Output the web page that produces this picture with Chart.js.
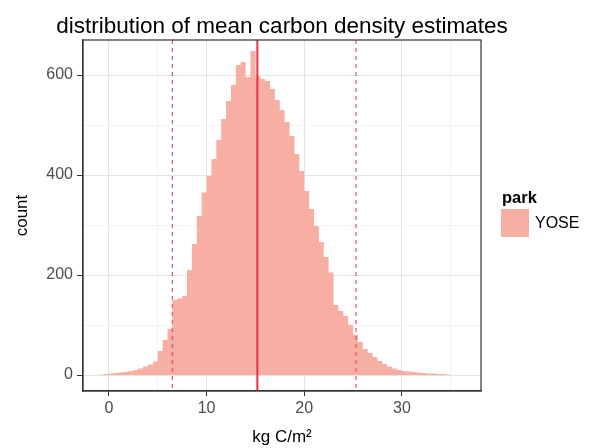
<!DOCTYPE html>
<html>
<head>
<meta charset="utf-8">
<script src="https://cdn.jsdelivr.net/npm/chart.js@4/dist/chart.umd.min.js"></script>
<style>
  html, body { margin: 0; padding: 0; background: #fff; }
  #wrap { width: 589px; height: 448px; }
</style>
</head>
<body>
<div id="wrap"><canvas id="histo" width="589" height="448"></canvas></div>
<script>
// histogram of mean carbon density estimates (kg C/m2), 0.5-wide bins starting at -1
const binStart = -1;
const binWidth = 0.5;
const counts = [
  1, 2, 3, 4, 5, 6, 8, 10, 13, 17, 21, 27,
  48, 70, 92, 150, 153, 158, 210, 262, 318, 365, 398, 432,
  470, 512, 548, 580, 620, 626, 596, 648, 598, 592, 588, 572,
  550, 530, 506, 478, 442, 408, 368, 332, 298, 266, 236, 205,
  140, 128, 118, 100, 80, 66, 52, 44, 36, 28, 22, 17,
  13, 10, 8, 7, 6, 5, 4, 3, 3, 2, 2, 1
];
const parkName = 'YOSE';
const meanValue = 15.2;
const intervalBounds = [6.5, 25.3];
// major ticks get labels, the rest are minor grid lines
const xTicksMajor = [0, 10, 20, 30];
const xTicksAll = [0, 5, 10, 15, 20, 25, 30, 35];
const yTicksMajor = [0, 200, 400, 600];
const yTicksAll = [0, 100, 200, 300, 400, 500, 600];

const FONT = '"Liberation Sans", Arial, Helvetica, sans-serif';
Chart.defaults.font.family = FONT;

// step outline: each bin's left edge carries its count, last edge closes to 0
const steps = counts.map((c, i) => ({ x: binStart + i * binWidth, y: c }));
steps.push({ x: binStart + counts.length * binWidth, y: 0 });

const fillColor = '#f7afa3';

const refLines = {
  id: 'refLines',
  afterDatasetsDraw(chart) {
    const { ctx, chartArea: { top, bottom }, scales: { x } } = chart;
    ctx.save();
    ctx.strokeStyle = 'rgba(240,70,100,0.9)';
    ctx.lineWidth = 1.3;
    ctx.setLineDash([4, 4]);
    intervalBounds.forEach(v => {
      const px = x.getPixelForValue(v);
      ctx.beginPath();
      ctx.moveTo(px, top);
      ctx.lineTo(px, bottom);
      ctx.stroke();
    });
    ctx.setLineDash([]);
    ctx.strokeStyle = '#e8334a';
    ctx.lineWidth = 2;
    const mx = x.getPixelForValue(meanValue);
    ctx.beginPath();
    ctx.moveTo(mx, top);
    ctx.lineTo(mx, bottom);
    ctx.stroke();
    ctx.restore();
  }
};

const frame = {
  id: 'frame',
  afterDraw(chart) {
    const { ctx, chartArea: a } = chart;
    ctx.save();
    // panel border
    ctx.strokeStyle = '#333';
    ctx.lineWidth = 1.2;
    ctx.strokeRect(a.left, a.top, a.right - a.left, a.bottom - a.top);

    // plot title, centred over the panel
    ctx.fillStyle = '#000';
    ctx.font = '22.5px ' + FONT;
    ctx.textAlign = 'center';
    ctx.textBaseline = 'alphabetic';
    ctx.fillText('distribution of mean carbon density estimates', (a.left + a.right) / 2, 33);

    // legend
    const ds = chart.data.datasets[0];
    ctx.textAlign = 'left';
    ctx.font = 'bold 16.5px ' + FONT;
    ctx.fillText('park', a.right + 21, 203);
    ctx.fillStyle = ds.backgroundColor;
    ctx.fillRect(a.right + 20, 209, 28, 28);
    ctx.fillStyle = '#000';
    ctx.font = '16px ' + FONT;
    ctx.textBaseline = 'middle';
    ctx.fillText(ds.label, a.right + 54, 224);
    ctx.restore();
  }
};

const majorGrid = '#e4e4e4';
const minorGrid = '#f3f3f3';

new Chart(document.getElementById('histo'), {
  type: 'line',
  data: {
    datasets: [{
      label: parkName,
      data: steps,
      stepped: true,
      fill: 'origin',
      backgroundColor: fillColor,
      borderColor: 'transparent',
      borderWidth: 1,
      pointRadius: 0
    }]
  },
  options: {
    responsive: false,
    animation: false,
    events: [],
    layout: { padding: { top: 40, right: 108, left: 0, bottom: 0 } },
    plugins: {
      legend: { display: false },
      title: { display: false },
      tooltip: { enabled: false }
    },
    scales: {
      x: {
        type: 'linear',
        min: -2.65,
        max: 38.1,
        afterBuildTicks(s) { s.ticks = xTicksAll.map(v => ({ value: v })); },
        afterFit(s) { s.height = 57; },
        border: { display: true, color: '#333', width: 1.2 },
        grid: {
          color: c => xTicksMajor.includes(c.tick.value) ? majorGrid : minorGrid,
          tickColor: c => xTicksMajor.includes(c.tick.value) ? '#333' : 'transparent',
          tickLength: 5
        },
        ticks: {
          autoSkip: false,
          maxRotation: 0,
          padding: 3,
          color: '#4d4d4d',
          font: { size: 16 },
          callback: v => xTicksMajor.includes(v) ? String(v) : ''
        },
        title: {
          display: true,
          text: 'kg C/m²',
          color: '#000',
          font: { size: 17 },
          padding: { top: 1, bottom: 0 }
        }
      },
      y: {
        type: 'linear',
        min: -32,
        max: 670,
        afterBuildTicks(s) { s.ticks = yTicksAll.map(v => ({ value: v })); },
        afterFit(s) { s.width = 83; },
        border: { display: true, color: '#333', width: 1.2 },
        grid: {
          color: c => yTicksMajor.includes(c.tick.value) ? majorGrid : minorGrid,
          tickColor: c => yTicksMajor.includes(c.tick.value) ? '#333' : 'transparent',
          tickLength: 6
        },
        ticks: {
          autoSkip: false,
          padding: 4,
          color: '#4d4d4d',
          font: { size: 16 },
          callback: v => yTicksMajor.includes(v) ? String(v) : ''
        },
        title: {
          display: true,
          text: 'count',
          color: '#000',
          font: { size: 17 },
          padding: { top: 12, bottom: 0 }
        }
      }
    }
  },
  plugins: [refLines, frame]
});
</script>
</body>
</html>
